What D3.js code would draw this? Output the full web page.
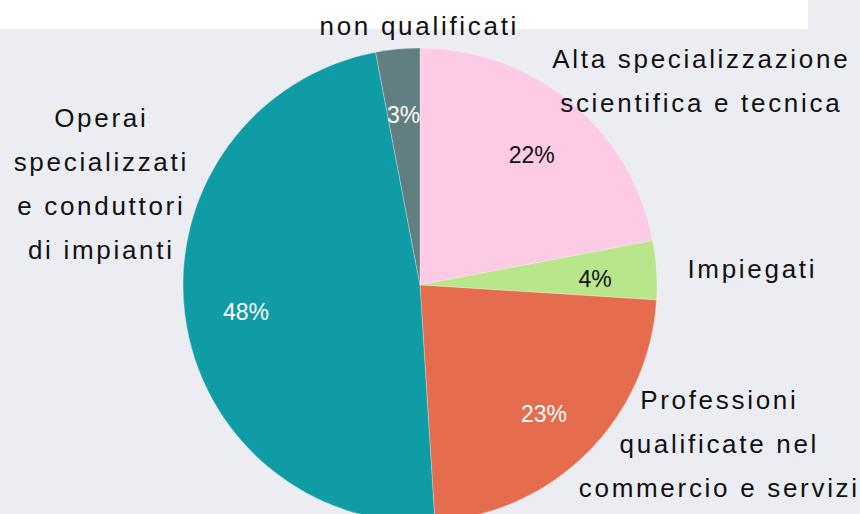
<!DOCTYPE html>
<html>
<head>
<meta charset="utf-8">
<script src="https://cdn.jsdelivr.net/npm/d3@7"></script>
<style>
  body { margin: 0; background: #ecedf2; }
  svg { display: block; }
</style>
</head>
<body>
<div id="chart"></div>
<script>
// data
var categories = [
    "Alta specializzazione scientifica e tecnica",
    "Impiegati",
    "Professioni qualificate nel commercio e servizi",
    "Operai specializzati e conduttori di impianti",
    "Operai non qualificati"
];
var values = [22, 4, 23, 48, 3];

// label lines as shown (the last one is cut by the top band)
var labelLines = [
    ["Alta specializzazione", "scientifica e tecnica"],
    ["Impiegati"],
    ["Professioni", "qualificate nel", "commercio e servizi"],
    ["Operai", "specializzati", "e conduttori", "di impianti"],
    ["non qualificati"]
];

var colors = ["#fdcbe6", "#b9e68a", "#e66c4e", "#0f9ca4", "#617e81"];
var pctColors = ["#111", "#111", "#fff", "#fff", "#fff"];

// layout for outer labels: centre x, first baseline
var labelPos = [
    {x: 700, y: 68},
    {x: 751, y: 278},
    {x: 718, y: 409},
    {x: 100, y: 127},
    {x: 418, y: 35}
];

var width = 860,
    height = 514;

var svg = d3.select('#chart')
    .append('svg')
    .attr('width', width)
    .attr('height', height);

svg.append('rect')
    .attr('width', width)
    .attr('height', height)
    .attr('fill', '#ecedf2');

// white band at top
svg.append('rect')
    .attr('x', 0)
    .attr('y', 0)
    .attr('width', 808)
    .attr('height', 29)
    .attr('fill', '#ffffff');

var cx = 420, cy = 285, radius = 237;

var pie = d3.pie().sort(null).value(function (d) { return d; });
var arcs = pie(values);

var arc = d3.arc().innerRadius(0).outerRadius(radius);
var labelArc = d3.arc().innerRadius(radius * 0.74).outerRadius(radius * 0.74);

var g = svg.append('g')
    .attr('transform', 'translate(' + [cx, cy] + ')');

g.selectAll('path')
    .data(arcs)
    .enter()
    .append('path')
    .attr('d', arc)
    .attr('fill', function (d, i) { return colors[i]; })
    .attr('stroke', 'rgba(255,255,255,0.35)')
    .attr('stroke-width', 0.8);

g.selectAll('.pct')
    .data(arcs)
    .enter()
    .append('text')
    .attr('class', 'pct')
    .attr('x', function (d) { return labelArc.centroid(d)[0]; })
    .attr('y', function (d) { return labelArc.centroid(d)[1] + 13; })
    .attr('text-anchor', 'middle')
    .attr('font-family', 'Liberation Sans, Arial, sans-serif')
    .attr('font-size', 23)
    .attr('fill', function (d, i) { return pctColors[i]; })
    .text(function (d) { return d.data + '%'; });

// outer labels
var labels = svg.selectAll('.lbl')
    .data(labelLines)
    .enter()
    .append('text')
    .attr('class', 'lbl')
    .attr('text-anchor', 'middle')
    .attr('font-family', 'Liberation Sans, Arial, sans-serif')
    .attr('font-size', 26)
    .attr('letter-spacing', 2.7)
    .attr('fill', '#111');

labels.each(function (lines, i) {
    var t = d3.select(this);
    lines.forEach(function (line, j) {
        t.append('tspan')
            .attr('x', labelPos[i].x + 1.3)
            .attr('y', labelPos[i].y + j * 44)
            .text(line);
    });
});
</script>
</body>
</html>
